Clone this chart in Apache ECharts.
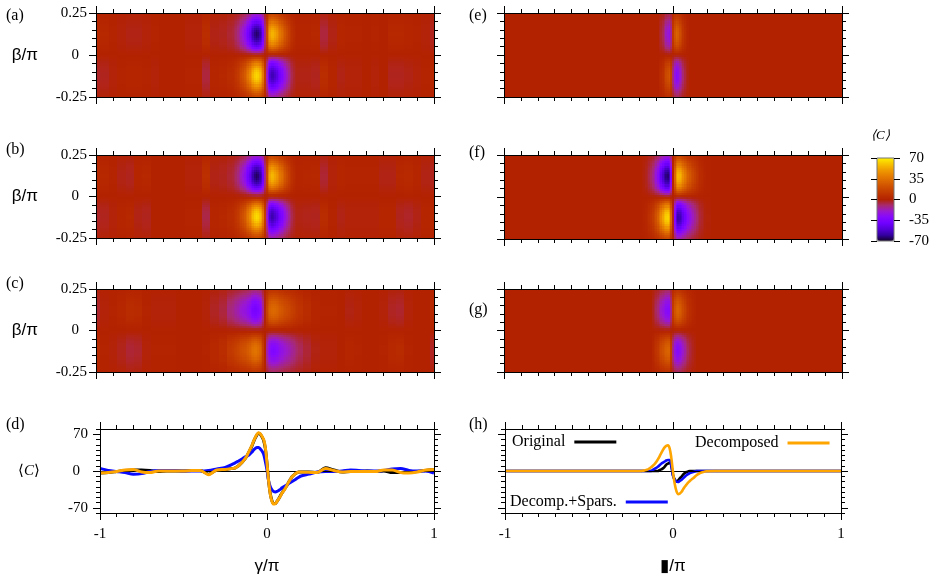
<!DOCTYPE html>
<html>
<head>
<meta charset="utf-8">
<script src="https://cdn.jsdelivr.net/npm/echarts@6/dist/echarts.min.js"></script>
<style>
  html, body { margin: 0; padding: 0; background: #fff; }
  #chart { width: 939px; height: 579px; }
</style>
</head>
<body>
<div id="chart"></div>
<script>
// sample positions along gamma/pi (coarse outside the peak, fine inside)
const gamma = [-1, -0.95, -0.9, -0.85, -0.8, -0.75, -0.7, -0.65, -0.6, -0.55, -0.5, -0.45, -0.4, -0.35, -0.3, -0.25,
  -0.2, -0.19, -0.18, -0.17, -0.16, -0.15, -0.14, -0.13, -0.12, -0.11, -0.1, -0.09, -0.08, -0.07, -0.06, -0.05, -0.04, -0.03, -0.02, -0.01,
  0, 0.01, 0.02, 0.03, 0.04, 0.05, 0.06, 0.07, 0.08, 0.09, 0.1, 0.11, 0.12, 0.13, 0.14, 0.15, 0.16, 0.17, 0.18, 0.19, 0.2,
  0.25, 0.3, 0.35, 0.4, 0.45, 0.5, 0.55, 0.6, 0.65, 0.7, 0.75, 0.8, 0.85, 0.9, 0.95, 1];

// panel (d): <C> vs gamma
const origLeft = [-4, -3, -1, 1, 2, 2, 1, -1, 0, 0, 0, 1, 1, -6, 2, 3,
  5, 6, 8, 10, 13, 16, 20, 24, 29, 35, 41, 48, 56, 63, 69, 72, 70, 65, 58, 43,
  14, -20, -44, -57, -62, -62, -58, -53, -47, -42, -37, -32, -27, -21, -16, -11, -8, -5, -3, -2, -2,
  -2, -3, 6, 2, -2, -1, -1, 0, -1, 0, -3, -3, -2, -1, 1, 3];
const decLeft = [-4, -3, -1, 2, 3, -2, -3, 0, 0, 0, 0, 1, 1, -7, 2, 3,
  5, 6, 8, 10, 13, 16, 20, 24, 29, 36, 42, 49, 57, 64, 70, 73, 71, 66, 60, 45,
  15, -20, -45, -58, -63, -62, -58, -53, -48, -42, -38, -33, -27, -21, -16, -11, -8, -5, -3, -2, -2,
  -2.5, -3, 5, 1, -2, -1, -1, -1, -1, 2, 2, -3, -4, -2, 2, 3];
const sparsLeft = [5, 1, -1, -3, -6, -5, -1, 1, 1, 1, 0, 0, 0, 1, 4, 7,
  14, 15.5, 17.5, 19, 21, 23, 25, 27, 28.5, 30, 33, 36, 40, 43, 45, 45, 42, 38, 32, 18,
  2, -20, -30, -36, -39, -40, -39, -37, -35, -32, -30, -28, -26, -24, -22, -20, -18, -16, -14, -12, -10,
  -6, -2, -1, -1, 0, 2, 1, 0, 0, 1, 4, 5, 1, 0, 0, -4];

// panel (h)
const origRight = [0, 0, 0, 0, 0, 0, 0, 0, 0, 0, 0, 0, 0, 0, 0, 0,
  0, 0, 0, 0, 0, 0, 0, 0, 0, 0, 0, 0, 2, 3, 5, 8, 12, 14, 16, 10,
  -8, -16, -20, -18, -14, -11, -7, -4, -2, -1, 0, 0, 0, 0, 0, 0, 0, 0, 0, 0, 0,
  0, 0, 0, 0, 0, 0, 0, 0, 0, 0, 0, 0, 0, 0, 0, 0];
const decRight = [0, 0, 0, 0, 0, 0, 0, 0, 0, 0, 0, 0, 0, 0, 0, 0,
  0, 0, 0.5, 1, 2, 3, 5, 7, 10, 13, 17, 22, 28, 34, 40, 45, 48, 49, 43, 25,
  -2, -24, -38, -44, -43, -40, -35, -30, -26, -22, -19, -16, -14, -11, -8, -6, -4, -3, -2, -1, -0.5,
  0, 0, 0, 0, 0, 0, 0, 0, 0, 0, 0, 0, 0, 0, 0, 0];
const sparsRight = [0, 0, 0, 0, 0, 0, 0, 0, 0, 0, 0, 0, 0, 0, 0, 0,
  0, 0, 0, 0, 0, 0, 0, 0, 2, 4, 6, 8, 11, 14, 16, 18, 20, 21, 21, 10,
  -9, -17, -20, -21, -19, -17, -14, -11, -8, -6, -4, -3, -2, -1, 0, 0, 0, 0, 0, 0, 0,
  0, 0, 0, 0, 0, 0, 0, 0, 0, 0, 0, 0, 0, 0, 0, 0];

// heat map rows (beta/pi, cell centres) and the row profile
const beta = [-0.24375, -0.23125, -0.21875, -0.20625, -0.19375, -0.18125, -0.16875, -0.15625, -0.14375, -0.13125,
  -0.11875, -0.10625, -0.09375, -0.08125, -0.06875, -0.05625, -0.04375, -0.03125, -0.01875, -0.00625,
  0.00625, 0.01875, 0.03125, 0.04375, 0.05625, 0.06875, 0.08125, 0.09375, 0.10625, 0.11875,
  0.13125, 0.14375, 0.15625, 0.16875, 0.18125, 0.19375, 0.20625, 0.21875, 0.23125, 0.24375];
const betaWeight = [0.3, 0.37, 0.46, 0.56, 0.66, 0.76, 0.85, 0.92, 0.97, 1, 1, 0.98, 0.94, 0.88, 0.79, 0.68, 0.55, 0.4, 0.24, 0.08,
  -0.08, -0.24, -0.4, -0.55, -0.68, -0.79, -0.88, -0.94, -0.98, -1, -1, -0.97, -0.92, -0.85, -0.76, -0.66, -0.56, -0.46, -0.37, -0.3];

// tick labels
const gammaTicks = [-1, 0, 1];
const betaTicks = [-0.25, 0, 0.25];
const cTicks = [-70, 0, 70];

const palette = ['#140028', '#3400a0', '#5400d8', '#7000ff', '#8508ff', '#9a18d0', '#a82a70', '#b32200',
  '#c03600', '#cc4c00', '#da6400', '#e67e00', '#f09c00', '#f8c400', '#fff000'];

const serif = 'Liberation Serif';
const sans = 'Liberation Sans';

const maps = [
  { profile: origLeft, gain: 0.9, grid: { left: 96, top: 13, width: 338, height: 84 }, yLabels: true },
  { profile: decLeft, gain: 0.9, grid: { left: 96, top: 155, width: 338, height: 83 }, yLabels: true },
  { profile: sparsLeft, gain: 0.8, grid: { left: 96, top: 289, width: 338, height: 83 }, yLabels: true },
  { profile: origRight, gain: 1.5, grid: { left: 504, top: 13, width: 338, height: 84 }, yLabels: false },
  { profile: decRight, gain: 1.3, grid: { left: 504, top: 155, width: 338, height: 84 }, yLabels: false },
  { profile: sparsRight, gain: 1.4, grid: { left: 504, top: 289, width: 338, height: 83 }, yLabels: false }
];

function cells(profile, gain) {
  const out = [];
  for (let i = 0; i < gamma.length; i++) {
    const g0 = i === 0 ? gamma[0] : (gamma[i - 1] + gamma[i]) / 2;
    const g1 = i === gamma.length - 1 ? gamma[i] : (gamma[i] + gamma[i + 1]) / 2;
    for (let j = 0; j < beta.length; j++) {
      const v = Math.max(-70, Math.min(70, gain * profile[i] * betaWeight[j]));
      out.push([g0, g1, beta[j] - 0.00625, beta[j] + 0.00625, v]);
    }
  }
  return out;
}

const tickStyle = { color: '#000', width: 1 };
const labelBase = { color: '#000', fontFamily: serif, fontSize: 15 };
const hiddenLine = { show: false, onZero: false };

function xAxes(gi, showLabels, name) {
  const base = {
    gridIndex: gi, type: 'value', min: -1, max: 1, z: 10,
    splitLine: { show: false },
    axisLine: { onZero: false, lineStyle: tickStyle }
  };
  const major = { customValues: gammaTicks, length: 7, lineStyle: tickStyle };
  const small = { length: 4, lineStyle: tickStyle };
  return [
    Object.assign({}, base, {
      position: 'bottom', axisTick: major,
      axisLabel: Object.assign({ show: showLabels, customValues: gammaTicks, margin: 14 }, labelBase),
      name: name || '', nameLocation: 'middle', nameGap: 45,
      nameTextStyle: { color: '#000', fontFamily: sans, fontSize: 17 }
    }),
    Object.assign({}, base, { position: 'bottom', interval: 0.1, axisLine: hiddenLine, axisTick: small, axisLabel: { show: false } }),
    Object.assign({}, base, { position: 'top', axisTick: major, axisLabel: { show: false } }),
    Object.assign({}, base, { position: 'top', interval: 0.1, axisLine: hiddenLine, axisTick: small, axisLabel: { show: false } })
  ];
}

function yAxes(gi, min, max, minor, ticks, showLabels, margin, name, nameGap, nameStyle) {
  const base = {
    gridIndex: gi, type: 'value', min: min, max: max, z: 10,
    splitLine: { show: false },
    axisLine: { onZero: false, lineStyle: tickStyle }
  };
  const major = { customValues: ticks, length: 7, lineStyle: tickStyle };
  const small = { length: 4, lineStyle: tickStyle };
  return [
    Object.assign({}, base, {
      position: 'left', axisTick: major,
      axisLabel: Object.assign({
        show: showLabels, customValues: ticks, margin: margin,
        formatter: v => (v === 0 ? '{z|0}' : String(v)),
        rich: { z: Object.assign({ padding: [0, 8, 0, 0] }, labelBase) }
      }, labelBase),
      name: name || '', nameLocation: 'middle', nameRotate: 0, nameGap: nameGap,
      nameTextStyle: nameStyle
    }),
    Object.assign({}, base, { position: 'left', interval: minor, axisLine: hiddenLine, axisTick: small, axisLabel: { show: false } }),
    Object.assign({}, base, { position: 'right', axisTick: major, axisLabel: { show: false } }),
    Object.assign({}, base, { position: 'right', interval: minor, axisLine: hiddenLine, axisTick: small, axisLabel: { show: false } })
  ];
}

const grids = [];
let xAxis = [];
let yAxis = [];
const series = [];

const betaName = { color: '#000', fontFamily: sans, fontSize: 17 };
const cName = { color: '#000', fontFamily: serif, fontSize: 15, rich: { i: { fontStyle: 'italic', fontFamily: serif, fontSize: 15, color: '#000' } } };

// pixel-snapped cells so neighbouring rows leave no seams
function renderCell(params, api) {
  const p0 = api.coord([api.value(0), api.value(3)]);
  const p1 = api.coord([api.value(1), api.value(2)]);
  const x0 = Math.round(p0[0]), y0 = Math.round(p0[1]);
  const x1 = Math.round(p1[0]), y1 = Math.round(p1[1]);
  return {
    type: 'rect',
    shape: { x: x0, y: y0, width: Math.max(1, x1 - x0), height: Math.max(1, y1 - y0) },
    style: { fill: api.visual('color') }
  };
}

maps.forEach((m, gi) => {
  grids.push(m.grid);
  xAxis = xAxis.concat(xAxes(gi, false));
  yAxis = yAxis.concat(yAxes(gi, -0.25, 0.25, 0.05, betaTicks, m.yLabels, 9, m.yLabels ? 'β/π' : '', 58, betaName));
  series.push({
    type: 'custom', xAxisIndex: 4 * gi, yAxisIndex: 4 * gi,
    data: cells(m.profile, m.gain), encode: { x: [0, 1], y: [2, 3] },
    renderItem: renderCell, clip: true, silent: true, animation: false
  });
});

// line panels (d) and (h)
const linePanels = [
  { grid: { left: 100, top: 429, width: 334, height: 84 }, lines: [origLeft, sparsLeft, decLeft], yLabels: true, xName: 'γ/π' },
  { grid: { left: 505, top: 429, width: 336, height: 84 }, lines: [origRight, sparsRight, decRight], yLabels: false, xName: '▮/π' }
];
const lineNames = ['Original', 'Decomp.+Spars.', 'Decomposed'];
const lineColors = ['#000000', '#0a0aff', '#ffa500'];

linePanels.forEach((p, k) => {
  const gi = 6 + k;
  grids.push(p.grid);
  xAxis = xAxis.concat(xAxes(gi, true, p.xName));
  yAxis = yAxis.concat(yAxes(gi, -80, 80, 10, cTicks, p.yLabels, 12, p.yLabels ? '⟨{i|C}⟩' : '', 60, cName));
  p.lines.forEach((vals, s) => {
    const ser = {
      type: 'line', name: lineNames[s], xAxisIndex: 4 * gi, yAxisIndex: 4 * gi,
      data: gamma.map((g, i) => [g, vals[i]]),
      smooth: 0.3, showSymbol: false, animation: false, silent: true,
      lineStyle: { color: lineColors[s], width: k === 0 ? 3 : 2.6 },
      itemStyle: { color: lineColors[s] }, z: 3 + s
    };
    if (s === 0) {
      ser.markLine = {
        silent: true, symbol: 'none', animation: false, label: { show: false },
        lineStyle: { color: '#000', width: 1, type: 'solid' },
        data: [{ yAxis: 0 }]
      };
    }
    series.push(ser);
  });
});

// colour bar frame + labels
grids.push({ left: 877, top: 158, width: 17, height: 83, show: true, borderColor: '#777', borderWidth: 1, z: 5 });
xAxis.push({ gridIndex: 8, type: 'value', show: false, min: 0, max: 1 });
yAxis.push({
  gridIndex: 8, type: 'value', min: -70, max: 70, interval: 35, position: 'left', z: 10,
  splitLine: { show: false }, axisLine: { show: false, onZero: false },
  axisTick: { length: 6, lineStyle: tickStyle }, axisLabel: { show: false }
});
yAxis.push({
  gridIndex: 8, type: 'value', min: -70, max: 70, interval: 35, position: 'right', z: 10,
  splitLine: { show: false }, axisLine: { show: false, onZero: false },
  axisTick: { length: 6, lineStyle: tickStyle },
  axisLabel: Object.assign({ margin: 15 }, labelBase)
});

const legendBase = {
  padding: 0, selectedMode: false, align: 'right', icon: 'rect',
  itemWidth: 42, itemHeight: 3,
  textStyle: { color: '#000', fontFamily: serif, fontSize: 16, padding: [0, 4, 0, 0] }
};

const labelTexts = [
  { t: '(a)', x: 6, y: 8 }, { t: '(b)', x: 6, y: 142 }, { t: '(c)', x: 6, y: 276 }, { t: '(d)', x: 6, y: 417 },
  { t: '(e)', x: 469, y: 8 }, { t: '(f)', x: 469, y: 145 }, { t: '(g)', x: 469, y: 302 }, { t: '(h)', x: 469, y: 417 }
];

const chart = echarts.init(document.getElementById('chart'), null, { renderer: 'canvas' });
chart.setOption({
  backgroundColor: '#fff',
  animation: false,
  grid: grids,
  xAxis: xAxis,
  yAxis: yAxis,
  visualMap: {
    type: 'continuous', min: -70, max: 70, dimension: 4,
    seriesIndex: [0, 1, 2, 3, 4, 5],
    inRange: { color: palette },
    left: 877, top: 158, itemWidth: 17, itemHeight: 83, padding: 0,
    calculable: false, hoverLink: false, text: null, showLabel: false
  },
  legend: [
    Object.assign({ left: 512, top: 434, data: ['Original'] }, legendBase),
    Object.assign({ left: 695, top: 435, data: ['Decomposed'] }, legendBase),
    Object.assign({ left: 510, top: 494, data: ['Decomp.+Spars.'] }, legendBase)
  ],
  graphic: labelTexts.map(l => ({
    type: 'text', left: l.x, top: l.y,
    style: { text: l.t, font: '16px "Liberation Serif"', fill: '#000' }
  })).concat([{
    type: 'text', left: 871, top: 129,
    style: { text: '⟨C⟩', font: 'italic 13px "Liberation Serif"', fill: '#000' }
  }]),
  series: series
});
</script>
</body>
</html>
